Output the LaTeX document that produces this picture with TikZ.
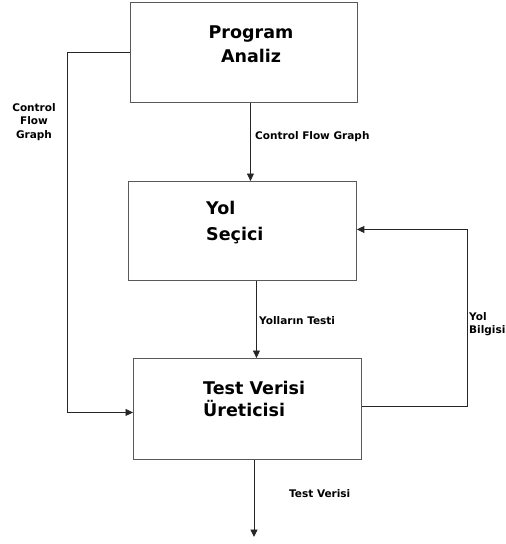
\documentclass[tikz,border=0pt]{standalone}
\usepackage{fontspec}
\setmainfont{DejaVu Sans}
\usetikzlibrary{arrows.meta}
\begin{document}
\begin{tikzpicture}[x=1pt,y=-1pt,
  box/.style={draw=black!65, line width=0.9pt, inner sep=0pt, anchor=north west},
  conn/.style={draw=black!85, line width=0.9pt},
  arr/.style={conn,-{Triangle[length=7.5pt,width=7pt]}},
  big/.style={font=\bfseries\fontsize{17.5}{24}\selectfont, inner sep=0pt},
  small/.style={font=\bfseries\fontsize{10.5}{13.5}\selectfont, inner sep=0pt}]
\useasboundingbox (0,0) rectangle (506,544);
% boxes
\node[box, minimum width=227pt, minimum height=100pt] (pa) at (130,2) {};
\node[box, minimum width=228pt, minimum height=99pt] (ys) at (128,181) {};
\node[box, minimum width=228pt, minimum height=101pt] (tv) at (133,358) {};
% box texts
\node[big, align=center] (t1) at (251,44) {Program\\Analiz};
\node[big, align=left, anchor=west, font=\bfseries\fontsize{17.5}{26}\selectfont] (t2) at (206,223) {Yol\\Seçici};
\node[big, align=left, anchor=west, font=\bfseries\fontsize{17.5}{22}\selectfont] (t3) at (203,399) {Test Verisi\\Üreticisi};
% connectors
\draw[arr] ([xshift=6.5pt]pa.south) -- ([xshift=6.5pt]pa.south |- ys.north);
\draw[arr] ([xshift=14pt]ys.south) -- ([xshift=14pt]ys.south |- tv.north);
\coordinate (end) at (254,537);
\draw[arr] (tv.south -| end) -- (end);
\draw[arr] (pa.west) -- ++(-63,0) |- ([yshift=-3.5pt]tv.west);
\draw[arr] ([yshift=2.5pt]tv.east) -- ++(106,0) |- ([yshift=1.5pt]ys.east);
% labels
\node[small, align=center] (l1) at (34,122) {Control\\Flow\\Graph};
\node[small, anchor=west] (l2) at (255,137) {Control Flow Graph};
\node[small, anchor=west] (l3) at (259,321) {Yolların Testi};
\node[small, anchor=west, align=left] (l4) at (469,324) {Yol\\Bilgisi};
\node[small, anchor=west] (l5) at (289,494) {Test Verisi};
\end{tikzpicture}
\end{document}
